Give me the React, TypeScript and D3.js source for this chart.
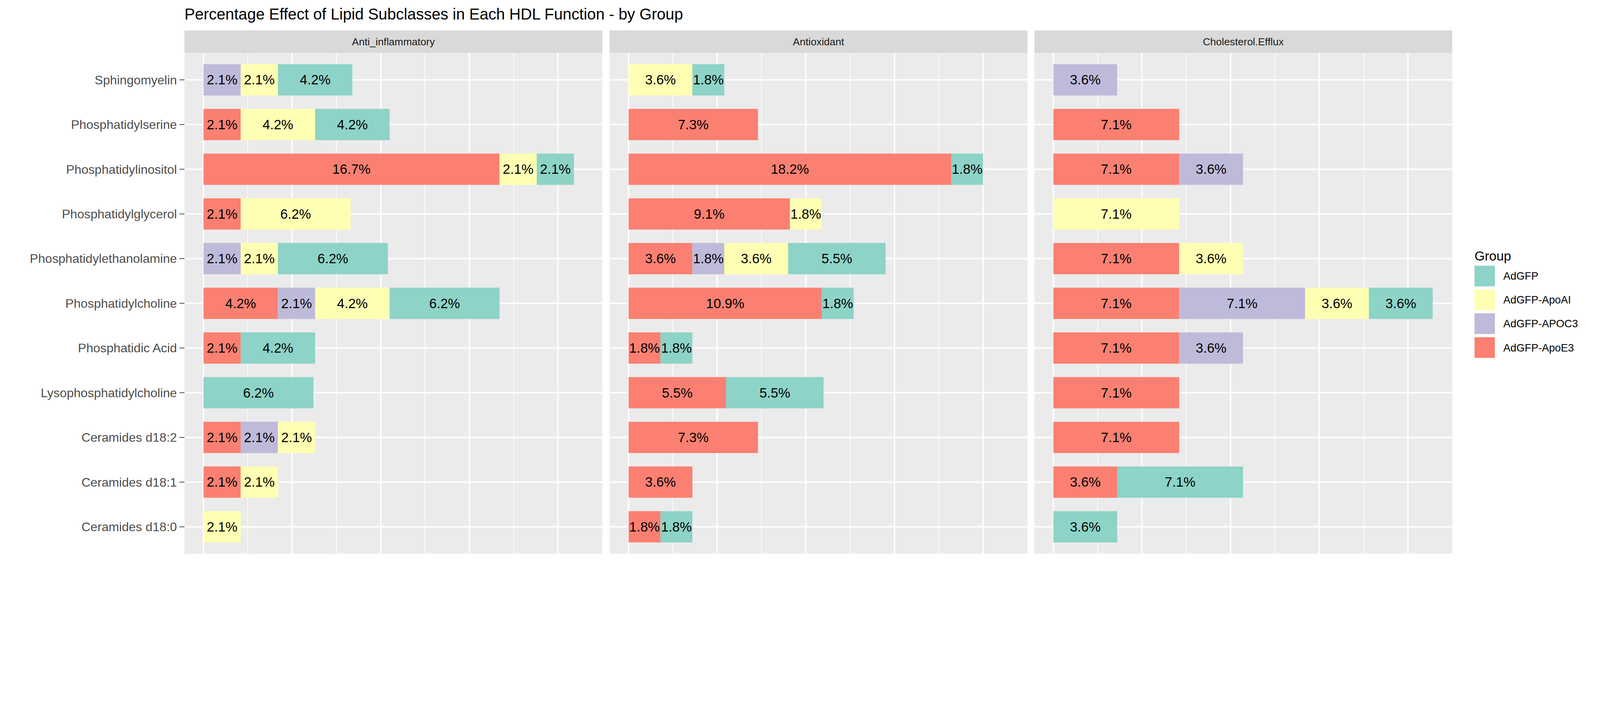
import React from "react";
import * as d3 from "d3";

const categories = ["Sphingomyelin","Phosphatidylserine","Phosphatidylinositol","Phosphatidylglycerol","Phosphatidylethanolamine","Phosphatidylcholine","Phosphatidic Acid","Lysophosphatidylcholine","Ceramides d18:2","Ceramides d18:1","Ceramides d18:0"];
const facets = ["Anti_inflammatory","Antioxidant","Cholesterol.Efflux"];
// stacking order left to right
const groups = ["AdGFP-ApoE3","AdGFP-APOC3","AdGFP-ApoAI","AdGFP"];
const legendGroups = ["AdGFP","AdGFP-ApoAI","AdGFP-APOC3","AdGFP-ApoE3"];
const colors: Record<string,string> = {"AdGFP":"#8DD3C7","AdGFP-ApoAI":"#FFFFB3","AdGFP-APOC3":"#BEBADA","AdGFP-ApoE3":"#FB8072"};

// values per category (order as categories), per group
const antiInflammatory: Record<string, number[]> = {
  "AdGFP-ApoE3": [0,2.1,16.7,2.1,0,4.2,2.1,0,2.1,2.1,0],
  "AdGFP-APOC3": [2.1,0,0,0,2.1,2.1,0,0,2.1,0,0],
  "AdGFP-ApoAI": [2.1,4.2,2.1,6.2,2.1,4.2,0,0,2.1,2.1,2.1],
  "AdGFP": [4.2,4.2,2.1,0,6.2,6.2,4.2,6.2,0,0,0],
};
const antioxidant: Record<string, number[]> = {
  "AdGFP-ApoE3": [0,7.3,18.2,9.1,3.6,10.9,1.8,5.5,7.3,3.6,1.8],
  "AdGFP-APOC3": [0,0,0,0,1.8,0,0,0,0,0,0],
  "AdGFP-ApoAI": [3.6,0,0,1.8,3.6,0,0,0,0,0,0],
  "AdGFP": [1.8,0,1.8,0,5.5,1.8,1.8,5.5,0,0,1.8],
};
const cholesterolEfflux: Record<string, number[]> = {
  "AdGFP-ApoE3": [0,7.1,7.1,0,7.1,7.1,7.1,7.1,7.1,3.6,0],
  "AdGFP-APOC3": [3.6,0,3.6,0,0,7.1,3.6,0,0,0,0],
  "AdGFP-ApoAI": [0,0,0,7.1,3.6,3.6,0,0,0,0,0],
  "AdGFP": [0,0,0,0,0,3.6,0,0,0,7.1,3.6],
};
const facetData = [antiInflammatory, antioxidant, cholesterolEfflux];

const W = 5100, H = 1800;
const font = "Liberation Sans, Arial, sans-serif";
const panelX = [588, 1943, 3297];
const panelW = 1332;
const stripTop = 97, stripBot = 169, panelBot = 1765;

export default function App() {
  const y = d3.scalePoint<string>().domain(categories).range([stripBot, panelBot]).padding(0.6);
  const step = y.step();
  const bh = step * 0.7;
  const xMaxData = 21.43;
  return (
    <svg viewBox={`0 0 ${W} ${H}`} width={W} height={H} style={{position:"absolute",left:0,top:0,width:"100vw",maxWidth:W,height:"auto",background:"#fff"}} fontFamily={font}>
      <rect x={0} y={0} width={W} height={H} fill="#fff"/>
      <text x={588} y={62} fontSize={50} fill="#000">Percentage Effect of Lipid Subclasses in Each HDL Function - by Group</text>
      {facets.map((f, fi) => {
        const x0 = panelX[fi];
        const x = d3.scaleLinear().domain([-0.05*xMaxData, 1.05*xMaxData]).range([x0, x0+panelW]);
        const majors = [0,5,10,15,20];
        const minors = [2.5,7.5,12.5,17.5];
        const data = facetData[fi];
        return (
          <g key={f}>
            <rect x={x0} y={stripTop} width={panelW} height={stripBot-stripTop} fill="#D9D9D9"/>
            <text x={x0+panelW/2} y={(stripTop+stripBot)/2+12} textAnchor="middle" fontSize={33} fill="#1A1A1A">{f}</text>
            <rect x={x0} y={stripBot} width={panelW} height={panelBot-stripBot} fill="#EBEBEB"/>
            {minors.map(m => <line key={"m"+m} x1={x(m)} x2={x(m)} y1={stripBot} y2={panelBot} stroke="#fff" strokeWidth={2.2}/>)}
            {majors.map(m => <line key={"M"+m} x1={x(m)} x2={x(m)} y1={stripBot} y2={panelBot} stroke="#fff" strokeWidth={4.4}/>)}
            {categories.map(c => <line key={"h"+c} x1={x0} x2={x0+panelW} y1={y(c)} y2={y(c)} stroke="#fff" strokeWidth={4.4}/>)}
            {categories.map((c, ci) => {
              let acc = 0;
              return groups.map(g => {
                const v = data[g][ci];
                if (!v) return null;
                const a = acc; acc += v;
                const cy = y(c)!;
                return (
                  <g key={c+g}>
                    <rect x={x(a)} y={cy-bh/2} width={x(a+v)-x(a)} height={bh} fill={colors[g]}/>
                    <text x={(x(a)+x(a+v))/2} y={cy+15} textAnchor="middle" fontSize={43} fill="#000">{v.toFixed(1)}%</text>
                  </g>
                );
              });
            })}
          </g>
        );
      })}
      {categories.map(c => (
        <g key={"yl"+c}>
          <line x1={572} x2={588} y1={y(c)} y2={y(c)} stroke="#333" strokeWidth={2.2}/>
          <text x={564} y={y(c)!+14} textAnchor="end" fontSize={40} fill="#4D4D4D">{c}</text>
        </g>
      ))}
      <text x={4700} y={830} fontSize={42} fill="#000">Group</text>
      {legendGroups.map((g, i) => {
        const cy = 880 + i*76;
        return (
          <g key={"lg"+g}>
            <rect x={4700} y={cy-33} width={65} height={66} fill={colors[g]}/>
            <text x={4792} y={cy+12} fontSize={34} fill="#000">{g}</text>
          </g>
        );
      })}
    </svg>
  );
}
